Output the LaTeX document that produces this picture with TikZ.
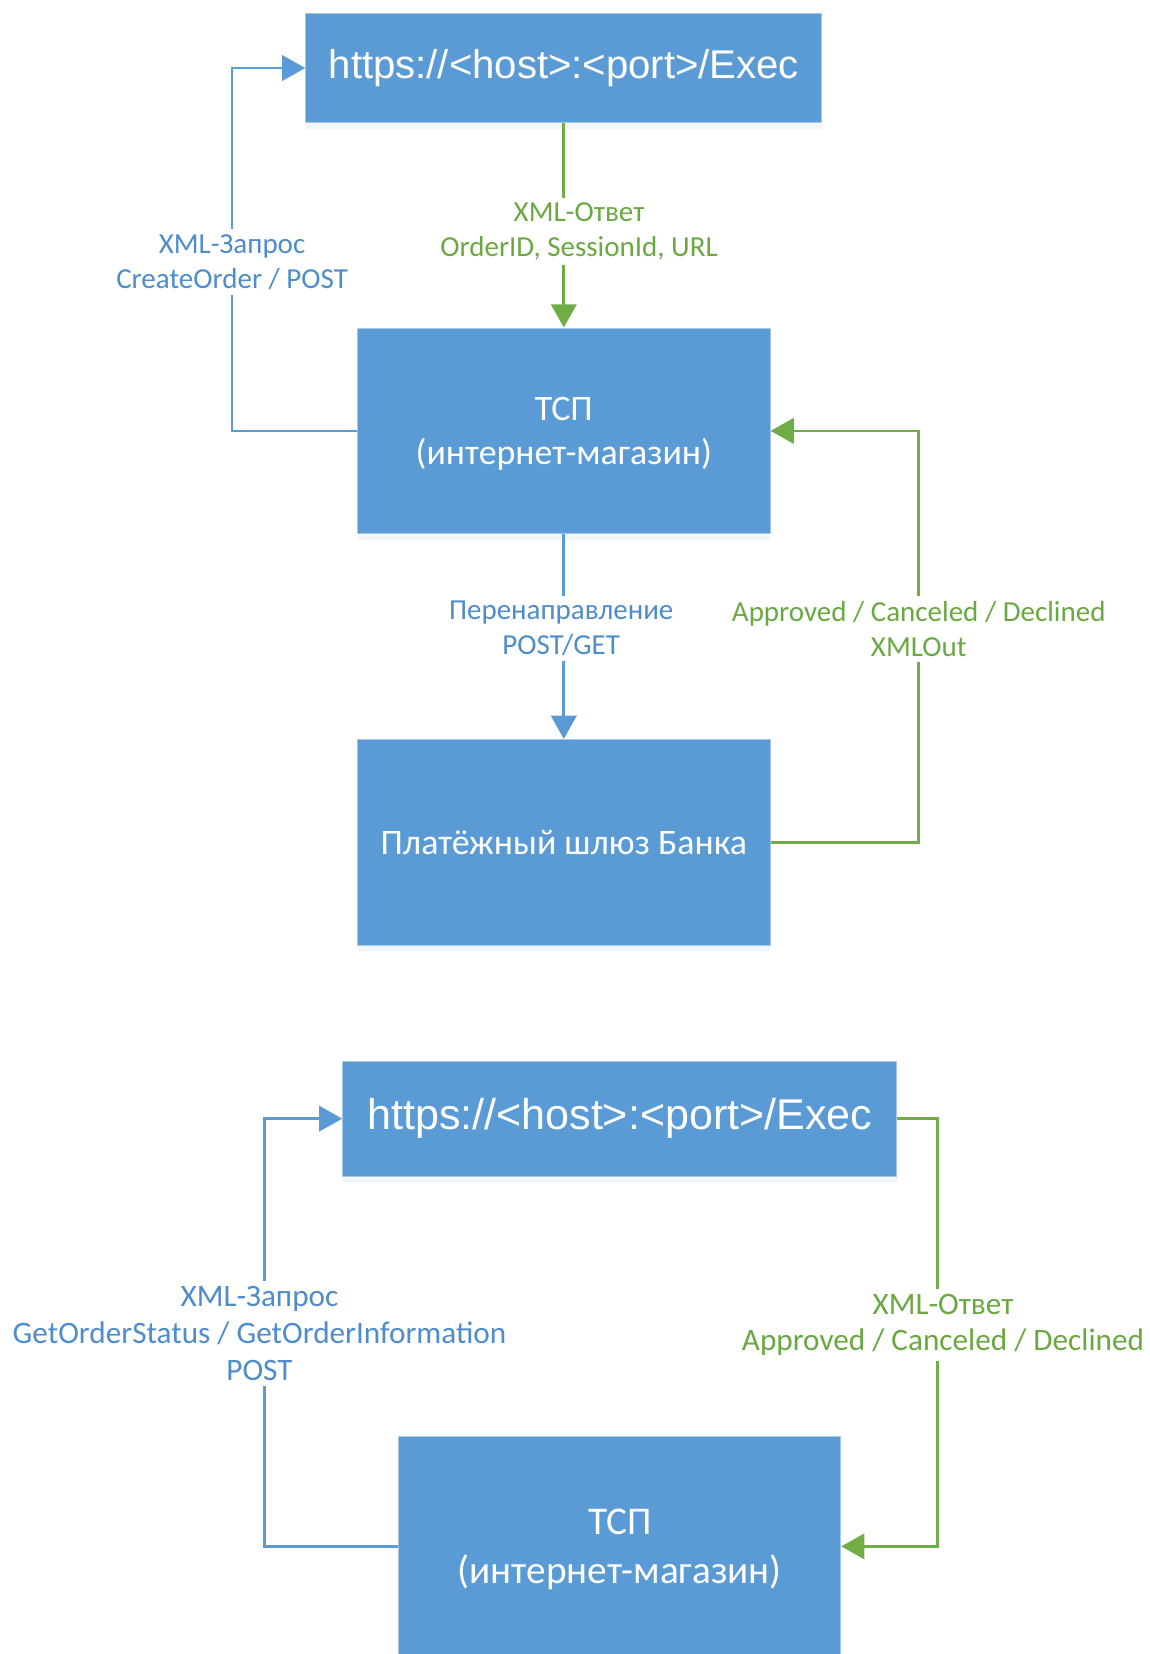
\documentclass[tikz,border=0pt]{standalone}
\usepackage{fontspec}
\setmainfont{Carlito}
\newfontfamily\urlfont{Liberation Sans}
\usetikzlibrary{arrows.meta, shadows}

\definecolor{boxblue}{HTML}{5B9BD5}
\definecolor{lineblue}{HTML}{5B9BD5}
\definecolor{textblue}{HTML}{4E8CCB}
\definecolor{linegreen}{HTML}{70AD47}
\definecolor{textgreen}{HTML}{6AA841}

\begin{document}
\begin{tikzpicture}[x=0.5pt, y=-0.5pt, >={Triangle[width=12pt, length=11pt]}]

  % --- CONFIGURAÇÕES GERAIS ---
  \useasboundingbox (0,0) rectangle (1090,1568);

  % Estilos dos blocos e rótulos
  \tikzstyle{block}=[rectangle, fill=boxblue, draw=boxblue!55!white, line width=0.5pt,
    text=white, align=center, inner sep=0pt,
    drop shadow={shadow xshift=0pt, shadow yshift=-3pt, opacity=0.25, fill=boxblue!35!white}]
  \tikzstyle{urlblock}=[block, font=\urlfont\fontsize{19}{23}\selectfont]
  \tikzstyle{tspblock}=[block, font=\fontsize{17}{21}\selectfont]
  \tikzstyle{lbl}=[fill=white, align=center, inner sep=2.5pt, font=\fontsize{13.75}{16.5}\selectfont]
  \tikzstyle{biglbl}=[font=\fontsize{14.8}{17.5}\selectfont]
  \tikzstyle{bluelbl}=[lbl, text=textblue]
  \tikzstyle{greenlbl}=[lbl, text=textgreen]
  \tikzstyle{blueline}=[draw=lineblue, line width=1.3pt, ->, color=lineblue]
  \tikzstyle{greenline}=[draw=linegreen, line width=1.3pt, ->, color=linegreen]

  % --- ESQUEMA 1: CRIAÇÃO DO PEDIDO ---
  \node[urlblock, minimum width=244.5pt, minimum height=51.5pt] (exec1) at (534.5, 64.5) {https://<host>:<port>/Exec};
  \node[tspblock, minimum width=195.5pt, minimum height=97.5pt, text depth=0pt] (tsp1) at (534.5, 408.5) {ТСП\\(интернет-магазин)};
  \node[tspblock, minimum width=195.5pt, minimum height=97.5pt] (bank) at (534.5, 798.5) {Платёжный шлюз Банка};

  % Cantos dos caminhos
  \coordinate (c1) at (220, 64.5);
  \coordinate (c2) at (871, 798.5);

  % Conectores
  \draw[greenline] (exec1) -- (tsp1);
  \draw[blueline] (tsp1.west) -| (c1) -- (exec1.west);
  \draw[blueline] (tsp1) -- (bank);
  \draw[greenline] (bank.east) -- (c2) |- (tsp1.east);

  % Rótulos
  \node[greenlbl] (l1) at (549, 219.5) {XML-Ответ\\OrderID, SessionId, URL};
  \node[bluelbl] (l2) at (220, 248.5) {XML-Запрос\\CreateOrder / POST};
  \node[bluelbl] (l3) at (532, 596) {Перенаправление\\POST/GET};
  \node[greenlbl] (l4) at (871, 596) {Approved / Canceled / Declined\\XMLOut};

  % --- ESQUEMA 2: CONSULTA DE ESTADO ---
  \node[urlblock, font=\urlfont\fontsize{20.4}{24}\selectfont, minimum width=262.5pt, minimum height=54.5pt] (exec2) at (587.5, 1060.5) {https://<host>:<port>/Exec};
  \node[tspblock, font=\fontsize{18.6}{23}\selectfont, text depth=-3pt, minimum width=209.5pt, minimum height=104pt] (tsp2) at (587.5, 1466) {ТСП\\(интернет-магазин)};

  % Cantos dos caminhos
  \coordinate (c3) at (251, 1060.5);
  \coordinate (c4) at (889, 1060.5);

  % Conectores
  \draw[blueline] (tsp2.west) -| (c3) -- (exec2.west);
  \draw[greenline] (exec2.east) -- (c4) |- (tsp2.east);

  % Rótulos
  \node[bluelbl, biglbl] (l5) at (246, 1264) {XML-Запрос\\GetOrderStatus / GetOrderInformation\\POST};
  \node[greenlbl, biglbl] (l6) at (894, 1256) {XML-Ответ\\Approved / Canceled / Declined};

\end{tikzpicture}
\end{document}
